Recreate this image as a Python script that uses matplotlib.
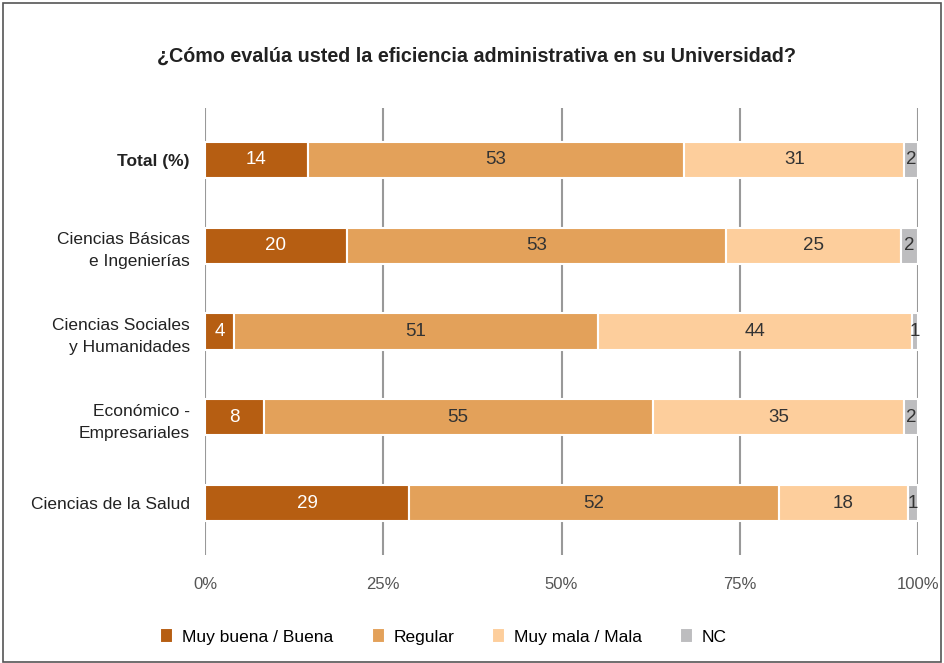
import matplotlib
matplotlib.use("Agg")
import matplotlib.pyplot as plt
from matplotlib.patches import Rectangle

plt.rcParams['font.family'] = ['Liberation Sans', 'DejaVu Sans']

categorias = ["Total (%)", "Ciencias Básicas\ne Ingenierías", "Ciencias Sociales\ny Humanidades",
              "Económico -\nEmpresariales", "Ciencias de la Salud"]
series = ["Muy buena / Buena", "Regular", "Muy mala / Mala", "NC"]
muy_buena = [14.4, 19.9, 4.1, 8.2, 28.6]
regular = [52.8, 53.1, 51.0, 54.6, 51.9]
muy_mala = [30.9, 24.6, 44.0, 35.2, 18.1]
nc = [1.9, 2.4, 0.9, 2.0, 1.4]
colores = ["#B65E12", "#E3A15A", "#FDCE9C", "#BDBDBF"]
color_texto = ["white", "#333333", "#333333", "#333333"]
ticks = [0, 25, 50, 75, 100]

fig = plt.figure(figsize=(9.44, 6.63), dpi=100)
ax = fig.add_axes([0.2172, 0.163, 0.7553, 0.674])

y = list(range(len(categorias)))
izq = [0.0] * len(categorias)
for vals, nombre, col, ct in zip([muy_buena, regular, muy_mala, nc], series, colores, color_texto):
    barras = ax.barh(y, vals, left=izq, height=0.42, color=col, edgecolor="white",
                     linewidth=1.5, label=nombre, zorder=3)
    for b, v in zip(barras, vals):
        ax.text(b.get_x() + b.get_width() / 2, b.get_y() + b.get_height() / 2, f"{round(v)}",
                ha="center", va="center", color=ct, fontsize=13.5, zorder=4)
    izq = [a + b for a, b in zip(izq, vals)]

ax.set_xlim(0, 100)
ax.set_ylim(len(categorias) - 0.4, -0.6)
ax.set_xticks(ticks)
ax.set_xticklabels([f"{t}%" for t in ticks], color="#555555", fontsize=12)
ax.set_yticks(y)
ax.set_yticklabels(categorias, fontsize=12.5, color="#222222", linespacing=1.6)
ax.get_yticklabels()[0].set_fontweight("bold")
ax.tick_params(axis="x", length=0, pad=16)
ax.tick_params(axis="y", length=0, pad=11)
ax.grid(axis="x", color="#999999", linewidth=1.5, zorder=0)
for s in ax.spines.values():
    s.set_visible(False)

fig.suptitle("¿Cómo evalúa usted la eficiencia administrativa en su Universidad?",
             x=0.505, y=0.93, fontsize=14.2, fontweight="bold", color="#222222")

fig.legend(loc="center", bbox_to_anchor=(0.47, 0.04), ncol=4, frameon=False, fontsize=12.5,
           handlelength=0.75, handleheight=0.9, columnspacing=2.2, handletextpad=0.5)

fig.add_artist(Rectangle((0.003, 0.002), 0.994, 0.993, transform=fig.transFigure,
                         fill=False, edgecolor="#555555", linewidth=1.2))

fig.savefig("out.png", dpi=100)
